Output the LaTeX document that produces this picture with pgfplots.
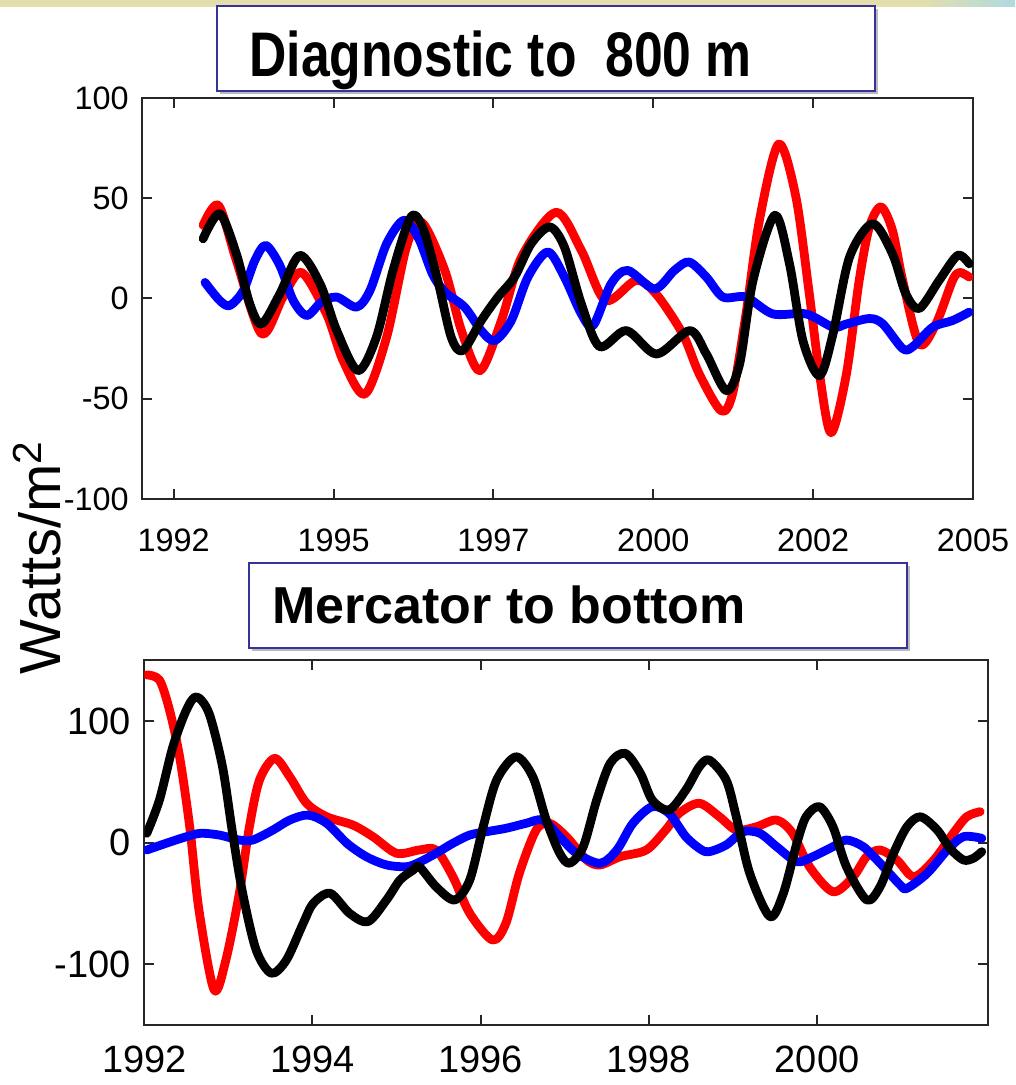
\documentclass[border=0pt]{standalone}
\usepackage{pgfplots}
\pgfplotsset{compat=1.18}
\usepackage{fontspec}
\setmainfont{Liberation Sans}
\usepackage{graphicx}
\definecolor{boxblue}{RGB}{51,51,153}
\definecolor{bandtan}{RGB}{228,222,172}
\definecolor{bandcyan}{RGB}{175,218,225}

\pgfplotsset{
  panel/.style={
    scale only axis, anchor=south west,
    tick align=inside, major tick length=5pt,
    axis line style={line width=1pt, black!85},
    tick style={line width=1pt, black!85},
    clip=true,
  },
  series/.style={line width=4.4pt, smooth, line join=round, line cap=round},
}

\begin{document}
\begin{tikzpicture}
\begin{scope}[x=1pt,y=1pt]
\path[use as bounding box] (0,0) rectangle (507.5,542.5);
\fill[white] (0,0) rectangle (507.5,542.5);
% slide band along the top edge
\fill[bandtan] (0,539) rectangle (460,542.5);
\shade[left color=bandtan, right color=bandcyan] (460,539) rectangle (507.5,542.5);
\end{scope}

% ---------------- upper panel: diagnostic to 800 m ----------------
\begin{axis}[panel,
  at={(70.85pt,293pt)}, width=415.65pt, height=200.5pt,
  xmin=1992, xmax=2005, ymin=-100, ymax=100,
  xtick={1992.5,1995,1997.5,2000,2002.5,2005},
  xticklabels={1992,1995,1997,2000,2002,2005},
  ytick={-100,-50,0,50,100},
  yticklabels={-100,-50,0,50,100},
  ticklabel style={font=\fontsize{16.2}{16.2}\selectfont},
  xticklabel style={yshift=-11.4pt},
  yticklabel style={xshift=-3pt},
]
\addplot[series, red] coordinates {
(1992.96,36.5) (1993.20,46.5) (1993.48,19) (1993.875,-17.6) (1994.21,0.7)
(1994.5,13) (1994.89,-7.7) (1995.15,-31) (1995.49,-47.7) (1995.83,-19.3)
(1996.14,25.7) (1996.38,38) (1996.74,14) (1997.0,-16) (1997.29,-36)
(1997.625,-11) (1997.94,20.7) (1998.48,43) (1998.875,24) (1999.25,-1)
(1999.73,9) (2000.05,2) (2000.46,-17.7) (2000.72,-37.7) (2001.06,-56)
(2001.24,-47.5) (2001.45,-7.7) (2001.66,39) (2001.96,77) (2002.23,50.7)
(2002.44,2.3) (2002.6,-37.7) (2002.78,-67) (2003.02,-37.7) (2003.22,9)
(2003.38,35.7) (2003.56,45.7) (2003.74,34) (2003.9,9) (2004.16,-22.7)
(2004.42,-12.7) (2004.68,9) (2004.79,13) (2004.94,10.7)
};
\addplot[series, blue] coordinates {
(1992.99,8) (1993.22,-1) (1993.38,-3.5) (1993.59,4) (1993.77,19)
(1993.94,26.5) (1994.16,16.5) (1994.37,-1) (1994.58,-8.5) (1994.81,-1.8)
(1995.05,0.7) (1995.36,-4.3) (1995.57,4) (1995.83,27.3) (1996.1,39)
(1996.33,30) (1996.55,12) (1996.75,3) (1997.05,-4.3) (1997.31,-16)
(1997.52,-21) (1997.78,-11) (1998.04,10.7) (1998.35,23.2) (1998.61,10.7)
(1998.875,-7.7) (1999.06,-13.5) (1999.34,7.3) (1999.6,14) (2000.02,4.8)
(2000.33,14) (2000.56,18.2) (2000.83,10.7) (2001.09,0.7) (2001.45,0.7)
(2001.87,-7.7) (2002.39,-7.7) (2002.81,-14.3) (2003.02,-12.7) (2003.38,-10)
(2003.59,-12.7) (2003.9,-25) (2004.06,-24) (2004.37,-14.3) (2004.68,-11)
(2004.94,-6.8)
};
\addplot[series, black] coordinates {
(1992.96,29.8) (1993.22,42.3) (1993.48,22.3) (1993.69,-2.7) (1993.875,-12.7)
(1994.16,2.3) (1994.47,21.5) (1994.79,7.3) (1995.05,-16) (1995.38,-36)
(1995.67,-19.3) (1995.93,14) (1996.21,40.7) (1996.4,35) (1996.63,9)
(1996.84,-19.3) (1997.02,-26) (1997.31,-11) (1997.57,0.7) (1997.83,10.7)
(1998.09,27.3) (1998.38,35.7) (1998.61,25.7) (1998.875,-2.7) (1999.16,-24)
(1999.58,-16) (2000.05,-27.7) (2000.57,-16) (2000.83,-27.7) (2001.14,-46)
(2001.35,-32.7) (2001.56,9) (2001.9,41.5) (2002.13,17.3) (2002.34,-21)
(2002.6,-38.5) (2002.81,-17.7) (2003.07,20.7) (2003.43,37.3) (2003.74,22.3)
(2003.95,2.3) (2004.16,-5) (2004.47,9) (2004.76,21.5) (2004.94,17.3)
};
\end{axis}

% ---------------- lower panel: Mercator to bottom ----------------
\begin{axis}[panel,
  at={(72.15pt,29.85pt)}, width=421.7pt, height=182.5pt,
  xmin=1992, xmax=2002.03, ymin=-150, ymax=150,
  xtick={1992,1994,1996,1998,2000},
  xticklabels={1992,1994,1996,1998,2000},
  ytick={-100,0,100},
  yticklabels={-100,0,100},
  ticklabel style={font=\fontsize{19}{19}\selectfont},
  xticklabel style={yshift=-6.7pt},
  yticklabel style={xshift=-3.3pt},
]
\addplot[series, red] coordinates {
(1992.03,138) (1992.18,133.8) (1992.30,109.1) (1992.42,70.7) (1992.54,13.2)
(1992.65,-55.2) (1992.83,-120.9) (1992.97,-96.3) (1993.13,-41.5) (1993.25,13.2)
(1993.37,51.6) (1993.55,69.4) (1993.73,54.3) (1993.93,32.5) (1994.17,21.4)
(1994.48,14.6) (1994.72,5.0) (1995.00,-8.6) (1995.27,-5.9) (1995.47,-5.9)
(1995.67,-27.9) (1995.87,-57.9) (1996.14,-79.9) (1996.30,-66.1) (1996.46,-25.1)
(1996.66,10.5) (1996.82,16.0) (1997.02,5.0) (1997.26,-14.1) (1997.42,-18.2)
(1997.66,-11.4) (1997.97,-5.9) (1998.20,10.5) (1998.36,24.2) (1998.60,32.5)
(1998.84,21.4) (1999.04,10.5) (1999.28,13.2) (1999.52,18.7) (1999.71,7.8)
(1999.91,-19.6) (2000.19,-40.2) (2000.43,-27.9) (2000.59,-11.4) (2000.75,-5.9)
(2000.95,-14.1) (2001.15,-27.9) (2001.39,-14.1) (2001.62,7.8) (2001.78,21.4)
(2001.94,25.6)
};
\addplot[series, blue] coordinates {
(1992.03,-5.9) (1992.26,-0.4) (1992.50,5.0) (1992.67,7.8) (1992.89,6.4)
(1993.13,2.3) (1993.29,2.3) (1993.53,10.5) (1993.73,18.7) (1993.95,22.8)
(1994.17,16.0) (1994.41,-0.4) (1994.64,-11.4) (1994.88,-18.2) (1995.12,-19.6)
(1995.27,-16) (1995.47,-8.6) (1995.67,-0.4) (1995.87,6.4) (1996.07,9.1)
(1996.30,11.9) (1996.54,16.0) (1996.74,18.7) (1996.94,5.0) (1997.14,-8.6)
(1997.42,-16.8) (1997.62,-5.9) (1997.81,16.0) (1998.04,29.7) (1998.24,24.2)
(1998.44,5.0) (1998.62,-5.5) (1998.72,-7.3) (1998.92,-1.8) (1999.12,9.1)
(1999.32,7.8) (1999.52,-3.2) (1999.76,-15.5) (1999.95,-11.4) (2000.19,-3.2)
(2000.35,2.3) (2000.55,-3.2) (2000.75,-16.8) (2000.99,-34.7) (2001.07,-37.4)
(2001.31,-25.1) (2001.55,-5.9) (2001.74,5.0) (2001.96,3.7)
};
\addplot[series, black] coordinates {
(1992.03,7.8) (1992.18,35.2) (1992.34,79.0) (1992.50,109.1) (1992.62,120.0)
(1992.77,106.4) (1992.93,62.5) (1993.05,7.8) (1993.17,-41.5) (1993.33,-88.1)
(1993.51,-107.2) (1993.69,-96.3) (1993.89,-66.1) (1994.01,-49.7) (1994.21,-41.5)
(1994.44,-57.9) (1994.66,-64.8) (1994.88,-47.0) (1995.04,-30.6) (1995.20,-22.3)
(1995.27,-19.6) (1995.47,-36.1) (1995.69,-47.0) (1995.87,-30.6) (1996.03,13.2)
(1996.19,51.6) (1996.42,70.7) (1996.62,54.3) (1996.78,18.7) (1996.94,-8.6)
(1997.06,-16.8) (1997.22,-3.2) (1997.38,35.2) (1997.54,65.3) (1997.72,73.5)
(1997.90,57.1) (1998.04,35.2) (1998.24,27.0) (1998.44,43.4) (1998.60,62.5)
(1998.72,68.0) (1998.92,51.6) (1999.04,21.4) (1999.20,-25.1) (1999.44,-60.7)
(1999.60,-41.5) (1999.76,-0.4) (1999.87,21.4) (2000.03,29.7) (2000.19,13.2)
(2000.35,-19.6) (2000.59,-47.0) (2000.75,-36.1) (2000.91,-8.6) (2001.07,13.2)
(2001.23,21.4) (2001.43,10.5) (2001.58,-4.5) (2001.74,-14.1) (2001.86,-12.7)
(2001.96,-7.3)
};
\end{axis}

\begin{scope}[x=1pt,y=1pt]
% shared vertical label
\node[rotate=90, anchor=base, inner sep=0] at (30,263.75)
  {\fontsize{29}{29}\selectfont Watts/m\textsuperscript{2}};

% title boxes with soft drop shadows
\fill[black!45, opacity=0.6] (110,495.65) rectangle (439,538);
\filldraw[fill=white, draw=boxblue, line width=1pt] (108.35,497.15) rectangle (437.5,539.5);
\node[anchor=base west, inner sep=0] at (124.5,504.15)
  {\scalebox{0.82}[1]{\fontsize{31.5}{31.5}\selectfont\bfseries Diagnostic to\ \ 800 m}};

\fill[black!45, opacity=0.6] (126.15,217.05) rectangle (454.85,259.5);
\filldraw[fill=white, draw=boxblue, line width=1pt] (124.65,218.55) rectangle (453.35,261);
\node[anchor=base west, inner sep=0] at (135.85,230.8)
  {\fontsize{26}{26}\selectfont\bfseries Mercator to bottom};
\end{scope}
\end{tikzpicture}
\end{document}
